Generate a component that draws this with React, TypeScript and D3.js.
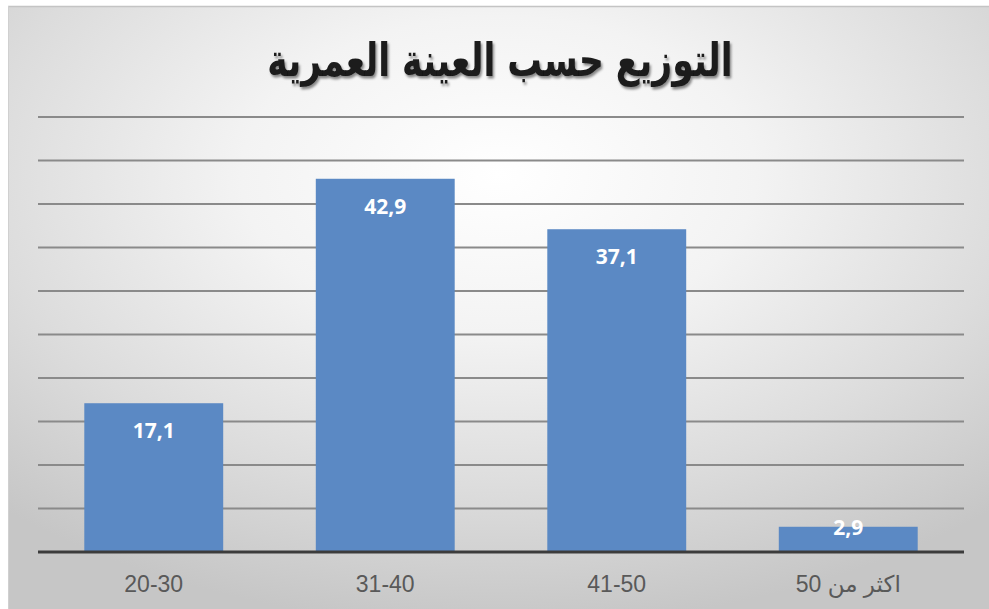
import React, { useEffect } from "react";
import * as d3 from "d3";

const title = "التوزيع حسب العينة العمرية";
const categories = ["20-30", "31-40", "41-50", "اكثر من 50"];
const values = [17.1, 42.9, 37.1, 2.9];
const gridTicks = [5, 10, 15, 20, 25, 30, 35, 40, 45, 50];

const W = 989;
const H = 609;

export default function App() {
  useEffect(() => {
    document.body.style.margin = "0";
  }, []);

  const x = d3.scaleBand<string>().domain(categories).range([38, 964]).paddingInner(0.4).paddingOuter(0.2);
  const y = d3.scaleLinear().domain([0, 50]).range([552, 117]);
  const y0 = y(0);
  const sx = 0.75;

  return (
    <svg width={W} height={H} style={{ display: "block" }}>
      <defs>
        <radialGradient id="bg" cx="50%" cy="28%" r="75%" fx="50%" fy="28%">
          <stop offset="0%" stopColor="#ffffff" />
          <stop offset="35%" stopColor="#f3f3f3" />
          <stop offset="70%" stopColor="#dcdcdc" />
          <stop offset="100%" stopColor="#c6c6c6" />
        </radialGradient>
        <filter id="shadow" x="-10%" y="-30%" width="120%" height="160%">
          <feDropShadow dx="2" dy="2.5" stdDeviation="1.2" floodColor="#000" floodOpacity="0.45" />
        </filter>
      </defs>
      <rect x={0} y={0} width={W} height={H} fill="#ffffff" />
      <rect x={8} y={6} width={W - 8} height={H - 6} fill="url(#bg)" />
      <line x1={8} x2={W} y1={6.5} y2={6.5} stroke="#c4c4c4" strokeWidth={1.5} />
      <line x1={8.5} x2={8.5} y1={6} y2={H} stroke="#d0d0d0" strokeWidth={1} />

      <g transform={`translate(500,76) scale(${sx},1)`} filter="url(#shadow)">
        <text
          x={0}
          y={0}
          textAnchor="middle"
          fontFamily="'DejaVu Sans', sans-serif"
          fontWeight="bold"
          fontSize={46}
          fill="#1a1a1a"
        >
          {title}
        </text>
      </g>

      {gridTicks.map((t) => (
        <line key={t} x1={38} x2={964} y1={y(t)} y2={y(t)} stroke="#8a8a8a" strokeWidth={2} />
      ))}

      {categories.map((c, i) => {
        const top = y(values[i]);
        return (
          <rect key={c} x={x(c)} y={top} width={x.bandwidth()} height={y0 - top} fill="#5b89c4" />
        );
      })}

      <line x1={38} x2={964} y1={y0} y2={y0} stroke="#3c3c3c" strokeWidth={3} />

      {categories.map((c, i) => {
        const top = y(values[i]);
        const ly = Math.min(top + 35, y0 - 17);
        return (
          <text
            key={"v" + c}
            x={(x(c) as number) + x.bandwidth() / 2}
            y={ly}
            textAnchor="middle"
            fontFamily="'Open Sans', sans-serif"
            fontWeight="bold"
            fontSize={21}
            fill="#ffffff"
          >
            {values[i].toFixed(1).replace(".", ",")}
          </text>
        );
      })}

      {categories.map((c) => (
        <text
          key={"c" + c}
          x={(x(c) as number) + x.bandwidth() / 2}
          y={592}
          textAnchor="middle"
          fontFamily="'Liberation Sans', 'DejaVu Sans', sans-serif"
          fontSize={23}
          fill="#595959"
        >
          {c}
        </text>
      ))}
    </svg>
  );
}
